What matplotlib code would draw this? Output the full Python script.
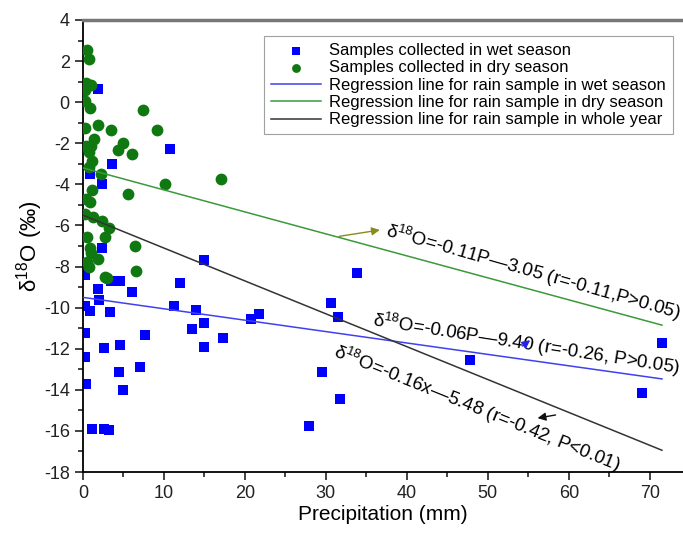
import matplotlib
matplotlib.use("Agg")
import matplotlib.pyplot as plt
from matplotlib.ticker import MultipleLocator

plt.rcParams['font.family'] = ['Liberation Sans', 'DejaVu Sans']
plt.rcParams['mathtext.fontset'] = 'custom'
plt.rcParams['mathtext.rm'] = 'Liberation Sans'
plt.rcParams['mathtext.it'] = 'Liberation Sans:italic'
plt.rcParams['axes.unicode_minus'] = False

# wet season samples (precipitation mm, d18O permil)
wet_p = [1.8, 10.8, 3.6, 0.9, 2.4, 14.9, 12.0, 13.9, 15.0, 13.5, 17.3, 14.9, 20.7, 21.7,
         33.8, 30.6, 31.5, 29.5, 31.8, 27.9, 47.8, 71.5, 69.0, 2.3, 0.3, 1.8, 3.4, 4.6,
         6.0, 2.0, 0.3, 0.9, 3.3, 11.2, 0.3, 7.7, 2.6, 4.6, 0.3, 7.0, 4.4, 0.4, 4.9,
         1.1, 2.6, 3.2]
wet_d = [0.63, -2.29, -2.99, -3.51, -3.98, -7.66, -8.81, -10.1, -10.75, -11.02, -11.46, -11.9, -10.57, -10.31,
         -8.33, -9.77, -10.45, -13.12, -14.44, -15.76, -12.55, -11.72, -14.15, -7.1, -8.4, -9.09, -8.68, -8.72,
         -9.22, -9.61, -9.9, -10.15, -10.2, -9.9, -11.24, -11.32, -11.97, -11.8, -12.4, -12.9, -13.15, -13.7, -14.03,
         -15.92, -15.93, -15.95]

# dry season samples
dry_p = [0.45, 0.7, 0.4, 1.0, 0.25, 0.2, 0.9, 7.4, 0.3, 1.8, 3.4, 9.2, 1.3, 0.4, 1.0, 0.8,
         5.0, 4.3, 6.1, 1.1, 0.75, 2.2, 10.1, 1.1, 5.6, 0.4, 17.0, 0.9, 1.2, 0.2, 2.3,
         3.2, 0.45, 2.75, 0.9, 0.95, 1.8, 0.45, 0.75, 6.4, 6.6, 2.7, 3.0]
dry_d = [2.54, 2.08, 0.91, 0.83, 0.59, 0.06, -0.26, -0.36, -1.24, -1.11, -1.37, -1.37, -1.8, -2.15, -2.15, -2.42,
         -2.0, -2.31, -2.5, -2.88, -3.15, -3.51, -4.0, -4.29, -4.49, -4.7, -3.75, -4.86, -5.6, -5.43, -5.76,
         -6.1, -6.54, -6.57, -7.1, -7.35, -7.63, -7.79, -8.03, -7.0, -8.24, -8.49, -8.54]

# regression lines as drawn (slope, intercept) over 0..71.5 mm
line_x = [0, 71.5]
wet_fit = (-0.0555, -9.5)
dry_fit = (-0.107, -3.2)
all_fit = (-0.16, -5.5)

eq_dry = r'δ$^{18}$O=-0.11P—3.05 (r=-0.11,P>0.05)'
eq_wet = r'δ$^{18}$O=-0.06P—9.40 (r=-0.26, P>0.05)'
eq_all = r'δ$^{18}$O=-0.16x—5.48 (r=-0.42, P<0.01)'

fig = plt.figure(figsize=(6.83, 5.33), dpi=100)
ax = fig.add_axes([0.1215, 0.1144, 0.8785, 0.8481])

ax.scatter(wet_p, wet_d, marker='s', s=50, color='#0000ff', linewidths=0,
           label='Samples collected in wet season', zorder=2)
ax.scatter(dry_p, dry_d, marker='o', s=72, color='#107810', linewidths=0,
           label='Samples collected in dry season', zorder=3)

def fit_y(fit):
    return [fit[0] * x + fit[1] for x in line_x]

ax.plot(line_x, fit_y(wet_fit), color='#4040f0', lw=1.1,
        label='Regression line for rain sample in wet season', zorder=4)
ax.plot(line_x, fit_y(dry_fit), color='#3a9a3a', lw=1.1,
        label='Regression line for rain sample in dry season', zorder=4)
ax.plot(line_x, fit_y(all_fit), color='#333333', lw=1.1,
        label='Regression line for rain sample in whole year', zorder=4)

ax.set_xlim(0, 74.1)
ax.set_ylim(-18, 4)
ax.xaxis.set_major_locator(MultipleLocator(10))
ax.xaxis.set_minor_locator(MultipleLocator(5))
ax.yaxis.set_major_locator(MultipleLocator(2))
ax.yaxis.set_minor_locator(MultipleLocator(1))
ax.tick_params(which='both', direction='out', labelsize=13, width=1.2, colors='#222222')
ax.tick_params(which='major', length=6)
ax.tick_params(which='minor', length=3.5)
ax.tick_params(top=False, right=False)

ax.spines['right'].set_visible(False)
ax.spines['top'].set_color('#777777')
ax.spines['top'].set_linewidth(2.5)
ax.spines['left'].set_linewidth(1.3)
ax.spines['bottom'].set_linewidth(1.3)

ax.set_xlabel('Precipitation (mm)', fontsize=15, labelpad=2)
ax.set_ylabel(r'δ$^{18}$O (‰)', fontsize=16, labelpad=-1)

leg = ax.legend(loc='upper right', bbox_to_anchor=(0.997, 0.982), fontsize=12,
                frameon=True, fancybox=False, edgecolor='#888888',
                handlelength=3.0, handletextpad=0.5, labelspacing=0.14,
                borderpad=0.4, scatterpoints=1, markerscale=0.75)
leg.get_frame().set_linewidth(0.8)

ax.text(37.5, -6.25, eq_dry, rotation=-15.8, rotation_mode='anchor',
        ha='left', va='center', fontsize=13.5)
ax.text(35.8, -10.6, eq_wet, rotation=-8.9, rotation_mode='anchor',
        ha='left', va='center', fontsize=13.5)
ax.text(31.1, -12.1, eq_all, rotation=-22, rotation_mode='anchor',
        ha='left', va='center', fontsize=13.5)

ax.annotate('', xy=(37.0, -6.2), xytext=(31.3, -6.55),
            arrowprops=dict(arrowstyle='-|>', color='#8a8a20', lw=1, mutation_scale=12))
ax.annotate('', xy=(55.5, -11.5), xytext=(54.0, -11.95),
            arrowprops=dict(arrowstyle='-|>', color='#2222ee', lw=1, mutation_scale=12))
ax.annotate('', xy=(55.8, -15.4), xytext=(58.7, -15.2),
            arrowprops=dict(arrowstyle='-|>', color='#111111', lw=1, mutation_scale=12))

fig.savefig('out.png', dpi=100)
